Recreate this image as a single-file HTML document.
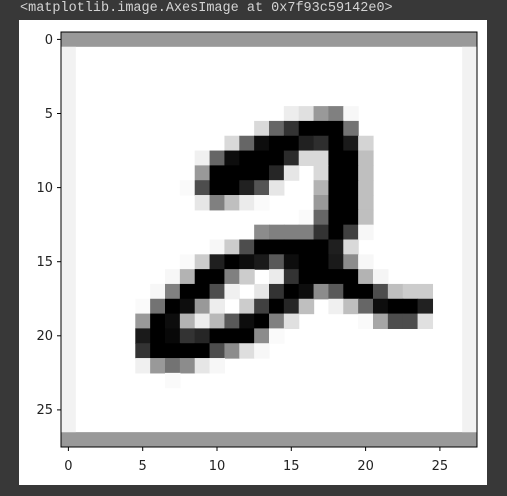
<!DOCTYPE html>
<html><head><meta charset="utf-8"><style>
html,body{margin:0;padding:0;background:#383838;}
body{width:507px;height:496px;position:relative;overflow:hidden;}
.t{position:absolute;left:20px;top:1px;font-family:"Liberation Mono",monospace;font-size:13.5px;color:#d4d4d4;}
svg{position:absolute;left:0;top:0;}
rect.c{width:1.04px;height:1.04px;}
text{font-family:"DejaVu Sans",sans-serif;font-size:13px;fill:#222;}
</style></head><body>
<div class="t">&lt;matplotlib.image.AxesImage at 0x7f93c59142e0&gt;</div>
<svg width="507" height="496" viewBox="0 0 507 496">
<rect x="19" y="20" width="468" height="465" fill="#fff"/>
<g transform="translate(61,32) scale(14.857,14.82)">
<rect x="0" y="0" width="28" height="28" fill="#fff"/>
<rect x="0" y="0" width="28" height="1" fill="#999"/>
<rect x="0" y="27" width="28" height="1" fill="#999"/>
<rect x="0" y="1" width="1" height="26" fill="#f2f2f2"/>
<rect x="27" y="1" width="1" height="26" fill="#f2f2f2"/>
<!-- row5 -->
<rect class="c" x="15" y="5" fill="#ededed"/><rect class="c" x="16" y="5" fill="#e0e0e0"/><rect class="c" x="17" y="5" fill="#999"/><rect class="c" x="18" y="5" fill="#808080"/><rect class="c" x="19" y="5" fill="#f7f7f7"/>
<!-- row6 -->
<rect class="c" x="13" y="6" fill="#d9d9d9"/><rect class="c" x="14" y="6" fill="#666"/><rect class="c" x="15" y="6" fill="#333"/><rect class="c" x="16" y="6" fill="#000"/><rect class="c" x="17" y="6" fill="#000"/><rect class="c" x="18" y="6" fill="#000"/><rect class="c" x="19" y="6" fill="#737373"/>
<!-- row7 -->
<rect class="c" x="11" y="7" fill="#d9d9d9"/><rect class="c" x="12" y="7" fill="#666"/><rect class="c" x="13" y="7" fill="#0d0d0d"/><rect class="c" x="14" y="7" fill="#000"/><rect class="c" x="15" y="7" fill="#000"/><rect class="c" x="16" y="7" fill="#212121"/><rect class="c" x="17" y="7" fill="#2e2e2e"/><rect class="c" x="18" y="7" fill="#000"/><rect class="c" x="19" y="7" fill="#1a1a1a"/><rect class="c" x="20" y="7" fill="#d4d4d4"/>
<!-- row8 -->
<rect class="c" x="9" y="8" fill="#f0f0f0"/><rect class="c" x="10" y="8" fill="#666"/><rect class="c" x="11" y="8" fill="#0d0d0d"/><rect class="c" x="12" y="8" fill="#000"/><rect class="c" x="13" y="8" fill="#000"/><rect class="c" x="14" y="8" fill="#000"/><rect class="c" x="15" y="8" fill="#2b2b2b"/><rect class="c" x="16" y="8" fill="#d9d9d9"/><rect class="c" x="17" y="8" fill="#d9d9d9"/><rect class="c" x="18" y="8" fill="#000"/><rect class="c" x="19" y="8" fill="#000"/><rect class="c" x="20" y="8" fill="#bfbfbf"/>
<!-- row9 -->
<rect class="c" x="9" y="9" fill="#999"/><rect class="c" x="10" y="9" fill="#000"/><rect class="c" x="11" y="9" fill="#000"/><rect class="c" x="12" y="9" fill="#000"/><rect class="c" x="13" y="9" fill="#000"/><rect class="c" x="14" y="9" fill="#262626"/><rect class="c" x="15" y="9" fill="#e6e6e6"/><rect class="c" x="17" y="9" fill="#d9d9d9"/><rect class="c" x="18" y="9" fill="#000"/><rect class="c" x="19" y="9" fill="#000"/><rect class="c" x="20" y="9" fill="#bfbfbf"/>
<!-- row10 -->
<rect class="c" x="8" y="10" fill="#fafafa"/><rect class="c" x="9" y="10" fill="#4d4d4d"/><rect class="c" x="10" y="10" fill="#000"/><rect class="c" x="11" y="10" fill="#000"/><rect class="c" x="12" y="10" fill="#212121"/><rect class="c" x="13" y="10" fill="#545454"/><rect class="c" x="14" y="10" fill="#e6e6e6"/><rect class="c" x="17" y="10" fill="#b3b3b3"/><rect class="c" x="18" y="10" fill="#000"/><rect class="c" x="19" y="10" fill="#000"/><rect class="c" x="20" y="10" fill="#bfbfbf"/>
<!-- row11 -->
<rect class="c" x="9" y="11" fill="#e6e6e6"/><rect class="c" x="10" y="11" fill="#808080"/><rect class="c" x="11" y="11" fill="#bfbfbf"/><rect class="c" x="12" y="11" fill="#ebebeb"/><rect class="c" x="13" y="11" fill="#fafafa"/><rect class="c" x="17" y="11" fill="#999"/><rect class="c" x="18" y="11" fill="#000"/><rect class="c" x="19" y="11" fill="#000"/><rect class="c" x="20" y="11" fill="#bfbfbf"/>
<!-- row12 -->
<rect class="c" x="16" y="12" fill="#fafafa"/><rect class="c" x="17" y="12" fill="#666"/><rect class="c" x="18" y="12" fill="#000"/><rect class="c" x="19" y="12" fill="#000"/><rect class="c" x="20" y="12" fill="#bfbfbf"/>
<!-- row13 -->
<rect class="c" x="13" y="13" fill="#8c8c8c"/><rect class="c" x="14" y="13" fill="#808080"/><rect class="c" x="15" y="13" fill="#808080"/><rect class="c" x="16" y="13" fill="#808080"/><rect class="c" x="17" y="13" fill="#333"/><rect class="c" x="18" y="13" fill="#000"/><rect class="c" x="19" y="13" fill="#404040"/><rect class="c" x="20" y="13" fill="#f7f7f7"/>
<!-- row14 -->
<rect class="c" x="10" y="14" fill="#f7f7f7"/><rect class="c" x="11" y="14" fill="#ccc"/><rect class="c" x="12" y="14" fill="#4d4d4d"/><rect class="c" x="13" y="14" fill="#000"/><rect class="c" x="14" y="14" fill="#000"/><rect class="c" x="15" y="14" fill="#000"/><rect class="c" x="16" y="14" fill="#000"/><rect class="c" x="17" y="14" fill="#000"/><rect class="c" x="18" y="14" fill="#1f1f1f"/><rect class="c" x="19" y="14" fill="#d9d9d9"/>
<!-- row15 -->
<rect class="c" x="8" y="15" fill="#fafafa"/><rect class="c" x="9" y="15" fill="#ccc"/><rect class="c" x="10" y="15" fill="#1f1f1f"/><rect class="c" x="11" y="15" fill="#000"/><rect class="c" x="12" y="15" fill="#0d0d0d"/><rect class="c" x="13" y="15" fill="#1a1a1a"/><rect class="c" x="14" y="15" fill="#595959"/><rect class="c" x="15" y="15" fill="#0d0d0d"/><rect class="c" x="16" y="15" fill="#000"/><rect class="c" x="17" y="15" fill="#000"/><rect class="c" x="18" y="15" fill="#1a1a1a"/><rect class="c" x="19" y="15" fill="#8c8c8c"/><rect class="c" x="20" y="15" fill="#f7f7f7"/>
<!-- row16 -->
<rect class="c" x="7" y="16" fill="#f7f7f7"/><rect class="c" x="8" y="16" fill="#b3b3b3"/><rect class="c" x="9" y="16" fill="#000"/><rect class="c" x="10" y="16" fill="#000"/><rect class="c" x="11" y="16" fill="#808080"/><rect class="c" x="12" y="16" fill="#ccc"/><rect class="c" x="14" y="16" fill="#ebebeb"/><rect class="c" x="15" y="16" fill="#333"/><rect class="c" x="16" y="16" fill="#000"/><rect class="c" x="17" y="16" fill="#000"/><rect class="c" x="18" y="16" fill="#000"/><rect class="c" x="19" y="16" fill="#000"/><rect class="c" x="20" y="16" fill="#b3b3b3"/><rect class="c" x="21" y="16" fill="#f5f5f5"/>
<!-- row17 -->
<rect class="c" x="6" y="17" fill="#f7f7f7"/><rect class="c" x="7" y="17" fill="#808080"/><rect class="c" x="8" y="17" fill="#000"/><rect class="c" x="9" y="17" fill="#000"/><rect class="c" x="10" y="17" fill="#4d4d4d"/><rect class="c" x="11" y="17" fill="#f0f0f0"/><rect class="c" x="13" y="17" fill="#e6e6e6"/><rect class="c" x="14" y="17" fill="#333"/><rect class="c" x="15" y="17" fill="#000"/><rect class="c" x="16" y="17" fill="#0d0d0d"/><rect class="c" x="17" y="17" fill="#8c8c8c"/><rect class="c" x="18" y="17" fill="#595959"/><rect class="c" x="19" y="17" fill="#000"/><rect class="c" x="20" y="17" fill="#000"/><rect class="c" x="21" y="17" fill="#4d4d4d"/><rect class="c" x="22" y="17" fill="#bfbfbf"/><rect class="c" x="23" y="17" fill="#ccc"/><rect class="c" x="24" y="17" fill="#ccc"/>
<!-- row18 -->
<rect class="c" x="5" y="18" fill="#fafafa"/><rect class="c" x="6" y="18" fill="#737373"/><rect class="c" x="7" y="18" fill="#000"/><rect class="c" x="8" y="18" fill="#0d0d0d"/><rect class="c" x="9" y="18" fill="#999"/><rect class="c" x="10" y="18" fill="#ededed"/><rect class="c" x="12" y="18" fill="#ccc"/><rect class="c" x="13" y="18" fill="#404040"/><rect class="c" x="14" y="18" fill="#000"/><rect class="c" x="15" y="18" fill="#262626"/><rect class="c" x="16" y="18" fill="#bfbfbf"/><rect class="c" x="18" y="18" fill="#f0f0f0"/><rect class="c" x="19" y="18" fill="#bfbfbf"/><rect class="c" x="20" y="18" fill="#666"/><rect class="c" x="21" y="18" fill="#0d0d0d"/><rect class="c" x="22" y="18" fill="#000"/><rect class="c" x="23" y="18" fill="#000"/><rect class="c" x="24" y="18" fill="#212121"/>
<!-- row19 -->
<rect class="c" x="5" y="19" fill="#999"/><rect class="c" x="6" y="19" fill="#000"/><rect class="c" x="7" y="19" fill="#0d0d0d"/><rect class="c" x="8" y="19" fill="#b3b3b3"/><rect class="c" x="9" y="19" fill="#ededed"/><rect class="c" x="10" y="19" fill="#b8b8b8"/><rect class="c" x="11" y="19" fill="#595959"/><rect class="c" x="12" y="19" fill="#0d0d0d"/><rect class="c" x="13" y="19" fill="#000"/><rect class="c" x="14" y="19" fill="#808080"/><rect class="c" x="15" y="19" fill="#e0e0e0"/><rect class="c" x="20" y="19" fill="#fafafa"/><rect class="c" x="21" y="19" fill="#a6a6a6"/><rect class="c" x="22" y="19" fill="#4d4d4d"/><rect class="c" x="23" y="19" fill="#4d4d4d"/><rect class="c" x="24" y="19" fill="#e0e0e0"/>
<!-- row20 -->
<rect class="c" x="5" y="20" fill="#1a1a1a"/><rect class="c" x="6" y="20" fill="#000"/><rect class="c" x="7" y="20" fill="#080808"/><rect class="c" x="8" y="20" fill="#333"/><rect class="c" x="9" y="20" fill="#262626"/><rect class="c" x="10" y="20" fill="#000"/><rect class="c" x="11" y="20" fill="#000"/><rect class="c" x="12" y="20" fill="#000"/><rect class="c" x="13" y="20" fill="#8c8c8c"/><rect class="c" x="14" y="20" fill="#fafafa"/>
<!-- row21 -->
<rect class="c" x="5" y="21" fill="#333"/><rect class="c" x="6" y="21" fill="#000"/><rect class="c" x="7" y="21" fill="#000"/><rect class="c" x="8" y="21" fill="#000"/><rect class="c" x="9" y="21" fill="#000"/><rect class="c" x="10" y="21" fill="#4d4d4d"/><rect class="c" x="11" y="21" fill="#8c8c8c"/><rect class="c" x="12" y="21" fill="#dedede"/><rect class="c" x="13" y="21" fill="#f7f7f7"/>
<!-- row22 -->
<rect class="c" x="5" y="22" fill="#f0f0f0"/><rect class="c" x="6" y="22" fill="#999"/><rect class="c" x="7" y="22" fill="#737373"/><rect class="c" x="8" y="22" fill="#8c8c8c"/><rect class="c" x="9" y="22" fill="#e6e6e6"/><rect class="c" x="10" y="22" fill="#f7f7f7"/>
<rect class="c" x="7" y="23" fill="#fafafa"/>
</g>
<rect x="61" y="32" width="416" height="415" fill="none" stroke="#000" stroke-width="1"/>
<g stroke="#000" stroke-width="1">
<line x1="57" y1="39.4" x2="61" y2="39.4"/><line x1="57" y1="113.5" x2="61" y2="113.5"/><line x1="57" y1="187.6" x2="61" y2="187.6"/><line x1="57" y1="261.7" x2="61" y2="261.7"/><line x1="57" y1="335.8" x2="61" y2="335.8"/><line x1="57" y1="409.9" x2="61" y2="409.9"/>
<line x1="68.4" y1="447" x2="68.4" y2="451"/><line x1="142.7" y1="447" x2="142.7" y2="451"/><line x1="217" y1="447" x2="217" y2="451"/><line x1="291.3" y1="447" x2="291.3" y2="451"/><line x1="365.6" y1="447" x2="365.6" y2="451"/><line x1="439.9" y1="447" x2="439.9" y2="451"/>
</g>
<g text-anchor="end">
<text x="53" y="44">0</text><text x="53" y="118">5</text><text x="53" y="192">10</text><text x="53" y="266">15</text><text x="53" y="340">20</text><text x="53" y="414">25</text>
</g>
<g text-anchor="middle">
<text x="68.4" y="470">0</text><text x="142.7" y="470">5</text><text x="217" y="470">10</text><text x="291.3" y="470">15</text><text x="365.6" y="470">20</text><text x="439.9" y="470">25</text>
</g>
</svg>
</body></html>
